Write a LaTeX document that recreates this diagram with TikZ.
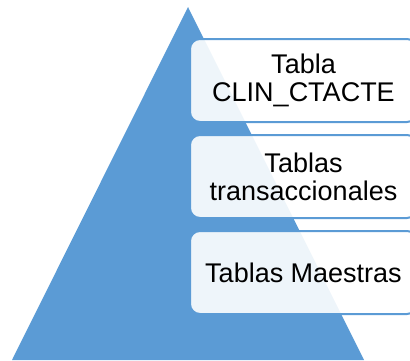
\documentclass[tikz,border=0pt]{standalone}
\usepackage{fontspec}
\setmainfont{Liberation Sans}
\usepackage{tikz}
\usetikzlibrary{positioning}
\definecolor{TierBlue}{HTML}{5B9BD5}

\tikzset{
  tier/.style={draw=TierBlue, line width=2pt, fill=white, fill opacity=0.9,
    text opacity=1, rounded corners=10pt, minimum width=227pt,
    minimum height=83pt, align=center, font=\fontsize{27}{28}\selectfont}
}

\begin{document}
\begin{tikzpicture}[x=1pt, y=1pt]
  \clip (0,0) rectangle (410,360);
  % Pyramid
  \fill[TierBlue] (12,0) -- (188,353) -- (364,0) -- cycle;
  % Labelled tiers
  \node[tier] (tierTop) at (303.5,279.5) {Tabla\\CLIN\_CTACTE};
  \node[tier, below=11pt of tierTop] (tierMid) {Tablas\\transaccionales};
  \node[tier, below=11pt of tierMid] (tierBase) {Tablas Maestras};
\end{tikzpicture}
\end{document}
